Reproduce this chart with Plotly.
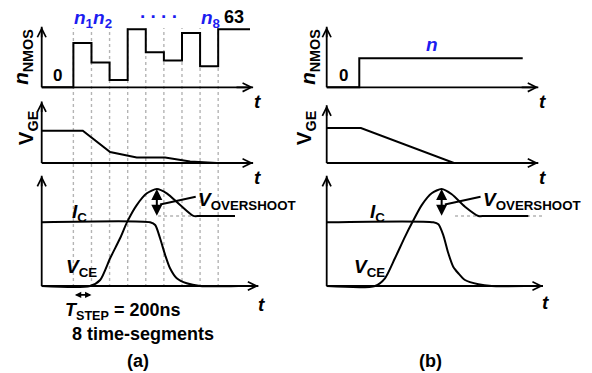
import plotly.graph_objects as go

W, H = 592, 373

# ---------------- data ----------------
# (a) segmented gate drive: number of active NMOS per 200 ns segment
seg_edges = [0, 1, 2, 3, 4, 5, 6, 7, 8]
n_levels_a = [48, 27, 8, 63, 38, 29, 59, 23]
n_final_a = 63
t_end_top_a = 9.76

# (b) conventional: single step to n
n_level_b = 31.5
t_step_b = 0.05
t_end_top_b = 9.08

# gate-emitter voltage
vge_t_a = [-1.75, 0.52, 2.03, 3.50, 5.07, 6.45, 7.92, 8.93]
vge_v_a = [15.0, 15.0, 5.1, 2.6, 2.6, 0.74, 0.0, 0.0]
vge_t_b = [-1.75, 0.14, 5.28, 9.30]
vge_v_b = [16.2, 16.2, 0.0, 0.0]

# collector-emitter voltage (normalised, IC on-level = 1)
vce_t_a = [-1.75, 0.92, 1.48, 2.03, 2.58, 2.98, 3.50, 4.06, 4.61, 5.16, 5.90, 6.63, 7.00, 8.93]
vce_v_a = [0.0, 0.0, 0.094, 0.435, 0.749, 1.01, 1.27, 1.455, 1.523, 1.455, 1.27, 1.10, 1.10, 1.10]
vce_t_b = [-1.75, 0.92, 1.47, 2.02, 2.58, 2.98, 3.50, 4.05, 4.60, 5.16, 5.89, 6.63, 7.00, 9.39]
vce_v_b = [0.0, 0.0, 0.121, 0.435, 0.775, 1.00, 1.27, 1.455, 1.523, 1.44, 1.245, 1.10, 1.10, 1.10]

# collector current (normalised)
ic_t_a = [-1.75, 4.24, 4.52, 4.79, 5.07, 5.34, 5.71, 6.26, 7.00, 9.13]
ic_v_a = [1.0, 1.0, 0.958, 0.749, 0.487, 0.278, 0.121, 0.042, 0.0, 0.0]
ic_t_b = [-1.75, 4.14, 4.42, 4.69, 4.97, 5.24, 5.52, 5.89, 6.63, 7.37, 9.21]
ic_v_b = [1.0, 1.0, 0.969, 0.80, 0.513, 0.303, 0.20, 0.094, 0.027, 0.0, 0.0]

# ---------------- geometry helpers (layout only) ----------------
T0 = -1.75          # time at the vertical axis
S = 18.1            # px per segment
OX = {'a': 41.7, 'b': 326.7}
ROWS = {
    'top': dict(by=87.3, k=58 / 63, top=21, bot=93),
    'mid': dict(by=163.0, k=32.3 / 15, top=91, bot=165),
    'bot': dict(by=286.0, k=63.7, top=170, bot=300),
}
AX = {('a', 'top'): 1, ('a', 'mid'): 2, ('a', 'bot'): 3,
      ('b', 'top'): 4, ('b', 'mid'): 5, ('b', 'bot'): 6}

FONT = 'Liberation Sans'
BLUE = '#1c1cf0'
NN = '<b><i>n</i><sub>NMOS</sub></b>'
VGE = '<b>V<sub>GE</sub></b>'
# rotated axis labels: (text, x position px of the title's axis)
YTITLES = {1: (NN, 36.0), 2: (VGE, 41.0), 4: (NN, 323.0), 5: (VGE, 319.0)}

def px(x, y):
    return x / W, 1 - y / H

fig = go.Figure()
layout_axes = {}
for (col, row), i in AX.items():
    r = ROWS[row]
    ox = OX[col]
    xr = [T0 - 6 / S, T0 + 226 / S]
    yr = [-(r['bot'] - r['by']) / r['k'], (r['by'] - r['top']) / r['k']]
    sfx = '' if i == 1 else str(i)
    layout_axes['xaxis' + sfx] = dict(domain=[(ox - 6) / W, (ox + 226) / W], range=xr,
                                      visible=False, anchor='y' + sfx, fixedrange=True)
    ya = dict(domain=[1 - r['bot'] / H, 1 - r['top'] / H], range=yr, fixedrange=True)
    if i in YTITLES:
        t_, pos = YTITLES[i]
        ya.update(visible=True, anchor='free', position=pos / W, showgrid=False,
                  zeroline=False, showline=False, showticklabels=False, ticks='',
                  title=dict(text=t_, font=dict(family=FONT, size=20.5, color='black'),
                             standoff=0))
    else:
        ya.update(visible=False, anchor='x' + sfx)
    layout_axes['yaxis' + sfx] = ya

def ref(i):
    s = '' if i == 1 else str(i)
    return 'x' + s, 'y' + s

LINE = dict(color='black', width=2)

def add_line(i, xs, ys, shape='linear', smoothing=None):
    xr_, yr_ = ref(i)
    ln = dict(LINE, shape=shape)
    if smoothing is not None:
        ln['smoothing'] = smoothing
    fig.add_trace(go.Scatter(x=xs, y=ys, mode='lines', line=ln, xaxis=xr_, yaxis=yr_,
                             hoverinfo='skip', showlegend=False))

# top (a) staircase
add_line(1, [T0] + seg_edges + [t_end_top_a], [0] + n_levels_a + [n_final_a, n_final_a], shape='hv')
# top (b) single step
add_line(4, [T0, t_step_b, t_end_top_b], [0, n_level_b, n_level_b], shape='hv')
# VGE
add_line(2, vge_t_a, vge_v_a)
add_line(5, vge_t_b, vge_v_b)
# IC & VCE
add_line(3, ic_t_a, ic_v_a, shape='spline', smoothing=0.7)
add_line(3, vce_t_a, vce_v_a, shape='spline', smoothing=0.7)
add_line(6, ic_t_b, ic_v_b, shape='spline', smoothing=0.7)
add_line(6, vce_t_b, vce_v_b, shape='spline', smoothing=0.7)

shapes = []
annots = []

# axes with open arrowheads
tips = {
    ('a', 'top'): (9.93, 65.8), ('a', 'mid'): (9.93, 28.6), ('a', 'bot'): (10.22, 1.73),
    ('b', 'top'): (9.94, 65.8), ('b', 'mid'): (9.94, 26.8), ('b', 'bot'): (10.20, 1.73),
}
for key, i in AX.items():
    xr_, yr_ = ref(i)
    xt, yt = tips[key]
    k = ROWS[key[1]]['k']
    shapes.append(dict(type='line', xref=xr_, yref=yr_, x0=T0, y0=0, x1=xt, y1=0,
                       line=dict(color='black', width=1.8)))
    shapes.append(dict(type='line', xref=xr_, yref=yr_, x0=T0, y0=0, x1=T0, y1=yt,
                       line=dict(color='black', width=1.8)))
    for (x, y, ax, ay) in [(xt, 0, xt - 1.0, 0), (T0, yt, T0, yt - 12 / k)]:
        annots.append(dict(x=x, y=y, ax=ax, ay=ay, xref=xr_, yref=yr_, axref=xr_, ayref=yr_,
                           text='', showarrow=True, arrowhead=5, arrowsize=1.0,
                           arrowwidth=1.7, arrowcolor='black'))

# dotted segment boundaries in (a)
for t in seg_edges:
    shapes.append(dict(type='line', xref='x3', yref='paper', x0=t, x1=t,
                       y0=1 - 287 / H, y1=1 - 28 / H, layer='below',
                       line=dict(color='#b4b4b4', width=1.4, dash='dot')))

# overshoot reference dotted lines
shapes.append(dict(type='line', xref='x3', yref='y3', x0=4.68, x1=6.61,
                   y0=vce_v_a[-1], y1=vce_v_a[-1], layer='below',
                   line=dict(color='#b4b4b4', width=1.4, dash='dot')))
shapes.append(dict(type='line', xref='x6', yref='y6', x0=5.34, x1=10.2,
                   y0=vce_v_b[-1], y1=vce_v_b[-1], layer='below',
                   line=dict(color='#b4b4b4', width=1.4, dash='dot')))

# overshoot double arrows and leader lines
for i, tpk, vv in [(3, 4.61, vce_v_a), (6, 4.60, vce_v_b)]:
    xr_, yr_ = ref(i)
    annots.append(dict(x=tpk, y=max(vv), ax=tpk, ay=vv[-1] - 0.02, xref=xr_, yref=yr_,
                       axref=xr_, ayref=yr_, text='', showarrow=True, arrowhead=2,
                       startarrowhead=2, arrowside='end+start', arrowsize=1.1,
                       startarrowsize=1.1, arrowwidth=2, arrowcolor='black'))
    shapes.append(dict(type='line', xref=xr_, yref=yr_, x0=tpk + 0.18, y0=1.28,
                       x1=tpk + 2.15, y1=1.40, line=dict(color='black', width=2)))

# T_STEP double arrow
annots.append(dict(x=1.0, y=-0.14, ax=0.0, ay=-0.14, xref='x3', yref='y3', axref='x3',
                   ayref='y3', text='', showarrow=True, arrowhead=2, startarrowhead=2,
                   arrowside='end+start', arrowsize=0.8, startarrowsize=0.8,
                   arrowwidth=1.6, arrowcolor='black'))

# ---------------- text ----------------
def txt(x, y, s, size=19, color='black', xanchor='center', yanchor='middle'):
    X, Y = px(x, y)
    annots.append(dict(x=X, y=Y, xref='paper', yref='paper', text=s, showarrow=False,
                       font=dict(family=FONT, size=size, color=color),
                       xanchor=xanchor, yanchor=yanchor))

TT = '<b><i>t</i></b>'
IC = '<b><i>I</i><sub>C</sub></b>'
VCE = '<b><i>V</i><sub>CE</sub></b>'
VOS = '<b><i>V</i><sub>OVERSHOOT</sub></b>'

# (a)
txt(57, 75, '<b>0</b>', size=17)
txt(93, 19, '<b><i>n</i><sub>1</sub><i>n</i><sub>2</sub></b>', color=BLUE)
txt(158, 11, '<b>. . . .</b>', size=19, color=BLUE)
txt(210, 19, '<b><i>n</i><sub>8</sub></b>', color=BLUE)
txt(234, 17, '<b>63</b>', size=18)
txt(257, 102, TT)
txt(257, 177, TT)
txt(261, 304, TT)
txt(79, 213, IC)
txt(81, 268, VCE)
txt(196, 201, VOS, xanchor='left')
txt(123, 311, '<b><i>T</i><sub>STEP</sub> = 200ns</b>', size=18)
txt(143, 334, '<b>8 time-segments</b>', size=18)
txt(138, 361, '<b>(a)</b>', size=18)

# (b)
txt(343, 75, '<b>0</b>', size=17)
txt(432, 45, '<b><i>n</i></b>', color=BLUE)
txt(542, 102, TT)
txt(542, 177, TT)
txt(545, 302, TT)
txt(377, 213, IC)
txt(369, 268, VCE)
txt(481, 201, VOS, xanchor='left')
txt(430, 361, '<b>(b)</b>', size=18)

fig.update_layout(width=W, height=H, margin=dict(l=0, r=0, t=0, b=0),
                  paper_bgcolor='white', plot_bgcolor='rgba(0,0,0,0)',
                  showlegend=False, shapes=shapes, annotations=annots, **layout_axes)

fig.write_html('out.html', config={'displayModeBar': False})
